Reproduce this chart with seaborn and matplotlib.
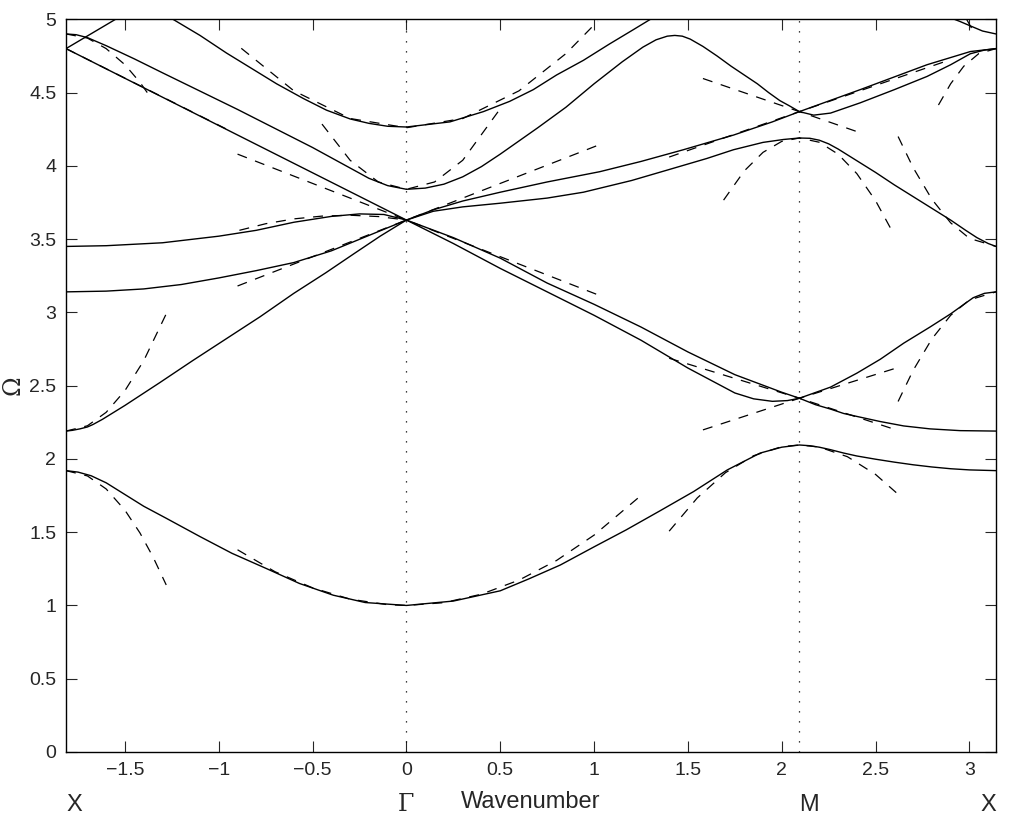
import numpy as np
import pandas as pd
import seaborn as sns
import matplotlib
matplotlib.use("Agg")
import matplotlib.pyplot as plt

# path end points: X - Gamma - M - X
X_LEFT = -1.814
GAMMA = 0.0
M_PT = 2.094
X_RIGHT = 3.1416

# ---------------- solid bands ----------------
# lowest band, whole path
band1_x = [-1.814, -1.75, -1.68, -1.6, -1.5, -1.4, -1.28, -1.1, -0.93, -0.75, -0.57, -0.39,
           -0.22, 0.0, 0.25, 0.5, 0.65, 0.82, 1.0, 1.17, 1.35, 1.53, 1.71, 1.885, 2.0,
           2.094, 2.15, 2.2, 2.26, 2.33, 2.4, 2.5, 2.6, 2.7, 2.8, 2.9, 3.0, 3.1416]
band1_y = [1.92, 1.91, 1.885, 1.837, 1.757, 1.677, 1.595, 1.47, 1.356, 1.254, 1.15, 1.07,
           1.02, 1.0, 1.03, 1.10, 1.18, 1.276, 1.40, 1.515, 1.645, 1.777, 1.925, 2.04, 2.08,
           2.095, 2.09, 2.08, 2.063, 2.04, 2.02, 1.998, 1.978, 1.96, 1.945, 1.933, 1.925, 1.92]

# X -> Gamma
xg_a_x = [-1.814, -1.78, -1.74, -1.7, -1.67, -1.62, -1.5, -1.315, -1.14, -0.96, -0.78,
          -0.6, -0.43, -0.28, -0.14, 0.0]
xg_a_y = [2.19, 2.195, 2.205, 2.218, 2.235, 2.27, 2.365, 2.52, 2.67, 2.82, 2.97,
          3.13, 3.27, 3.40, 3.52, 3.63]
xg_b_x = [-1.814, -1.6, -1.4, -1.2, -1.0, -0.8, -0.6, -0.4, -0.2, 0.0]
xg_b_y = [3.14, 3.145, 3.16, 3.19, 3.235, 3.285, 3.34, 3.42, 3.525, 3.63]
xg_c_x = [-1.814, -1.6, -1.3, -1.0, -0.8, -0.6, -0.4, -0.25, -0.12, 0.0]
xg_c_y = [3.45, 3.455, 3.475, 3.52, 3.56, 3.615, 3.655, 3.672, 3.668, 3.63]
xg_d_x = [-1.814, -1.2, -0.6, 0.0]
xg_d_y = [4.80, 4.404, 4.017, 3.63]
xg_e_x = [-1.814, -1.76, -1.7, -1.6, -1.45, -1.3, -1.1, -0.9, -0.7, -0.5, -0.35, -0.2,
          -0.1, 0.0]
xg_e_y = [4.90, 4.895, 4.875, 4.82, 4.73, 4.635, 4.51, 4.385, 4.255, 4.125, 4.02, 3.915,
          3.865, 3.84]
xg_f_x = [-1.244, -1.1, -0.959, -0.8, -0.692, -0.55, -0.426, -0.3, -0.2, -0.1, 0.0]
xg_f_y = [5.0, 4.89, 4.77, 4.645, 4.56, 4.46, 4.38, 4.32, 4.29, 4.27, 4.265]
xg_g_x = [-1.814, -1.5]
xg_g_y = [4.80, 5.038]

# Gamma -> M
gm_a_x = [0.0, 0.143, 0.3, 0.5, 0.75, 1.03, 1.25, 1.476, 1.743, 1.95, 2.094]
gm_a_y = [3.63, 3.70, 3.76, 3.82, 3.89, 3.96, 4.03, 4.11, 4.21, 4.30, 4.37]
gm_b_x = [0.0, 0.143, 0.3, 0.5, 0.75, 0.943, 1.2, 1.387, 1.6, 1.743, 1.9, 2.01, 2.094]
gm_b_y = [3.63, 3.69, 3.72, 3.745, 3.78, 3.82, 3.90, 3.97, 4.05, 4.11, 4.16, 4.18, 4.19]
gm_c_x = [0.0, 0.25, 0.5, 0.75, 1.0, 1.25, 1.5, 1.75, 2.0, 2.094]
gm_c_y = [3.63, 3.51, 3.37, 3.20, 3.055, 2.90, 2.73, 2.575, 2.455, 2.414]
gm_d_x = [0.0, 0.25, 0.5, 0.75, 1.0, 1.25, 1.5, 1.75, 1.85, 1.95, 2.03, 2.094]
gm_d_y = [3.63, 3.47, 3.30, 3.14, 2.98, 2.81, 2.62, 2.45, 2.41, 2.393, 2.398, 2.414]
gm_e_x = [0.0, 0.1, 0.2, 0.3, 0.4, 0.5, 0.6, 0.7, 0.85, 1.0, 1.15, 1.26, 1.33, 1.39,
          1.43, 1.47, 1.512, 1.58, 1.655, 1.73, 1.8, 1.87, 1.93, 1.99, 2.04, 2.094]
gm_e_y = [3.84, 3.848, 3.875, 3.925, 3.995, 4.08, 4.17, 4.26, 4.40, 4.56, 4.71, 4.81,
          4.86, 4.885, 4.89, 4.885, 4.865, 4.815, 4.75, 4.68, 4.62, 4.56, 4.50, 4.445,
          4.41, 4.37]
gm_f_x = [0.0, 0.232, 0.41, 0.55, 0.676, 0.8, 0.943, 1.08, 1.21, 1.30]
gm_f_y = [4.265, 4.30, 4.37, 4.44, 4.52, 4.62, 4.72, 4.83, 4.93, 5.0]

# M -> X
mx_a_x = [2.094, 2.418, 2.774, 3.005, 3.1416]
mx_a_y = [4.37, 4.52, 4.69, 4.78, 4.80]
mx_b_x = [2.094, 2.17, 2.26, 2.418, 2.6, 2.774, 2.9, 3.005, 3.08, 3.1416]
mx_b_y = [4.37, 4.346, 4.36, 4.43, 4.52, 4.61, 4.69, 4.765, 4.79, 4.80]
mx_c_x = [2.094, 2.15, 2.2, 2.25, 2.3, 2.35, 2.4, 2.5, 2.6, 2.7, 2.8, 2.9, 2.98, 3.04,
          3.1, 3.1416]
mx_c_y = [4.19, 4.188, 4.175, 4.15, 4.115, 4.075, 4.035, 3.955, 3.87, 3.79, 3.71, 3.63,
          3.56, 3.51, 3.47, 3.45]
mx_d_x = [2.094, 2.26, 2.4, 2.525, 2.65, 2.79, 2.9, 3.02, 3.08, 3.1416]
mx_d_y = [2.414, 2.49, 2.585, 2.68, 2.79, 2.90, 2.99, 3.10, 3.13, 3.14]
mx_e_x = [2.094, 2.18, 2.26, 2.33, 2.4, 2.525, 2.65, 2.79, 2.95, 3.1416]
mx_e_y = [2.414, 2.37, 2.34, 2.31, 2.29, 2.255, 2.225, 2.205, 2.193, 2.19]
mx_f_x = [2.90, 2.95, 3.005, 3.07, 3.1416]
mx_f_y = [5.01, 4.985, 4.955, 4.92, 4.90]

# ---------------- dashed approximations ----------------
dx_band1_x = [-1.814, -1.7, -1.6, -1.5, -1.42, -1.35, -1.28]
dx_band1_y = [1.92, 1.884, 1.795, 1.65, 1.495, 1.33, 1.14]
dx_219_x = [-1.814, -1.7, -1.6, -1.5, -1.4, -1.28]
dx_219_y = [2.19, 2.226, 2.318, 2.466, 2.67, 2.99]
dx_490_x = [-1.814, -1.7, -1.6, -1.5, -1.42, -1.37]
dx_490_y = [4.90, 4.872, 4.80, 4.69, 4.57, 4.48]
dx_480_x = [-1.814, -0.95]
dx_480_y = [4.80, 4.245]
dg_band1_x = [-0.9, -0.7, -0.5, -0.3, -0.1, 0.0, 0.2, 0.4, 0.6, 0.8, 1.0, 1.245]
dg_band1_y = [1.38, 1.23, 1.12, 1.043, 1.005, 1.0, 1.019, 1.077, 1.173, 1.307, 1.48, 1.745]
dg_up_x = [-0.9, 1.04]
dg_up_y = [3.18, 4.15]
dg_down_x = [-0.9, 1.04]
dg_down_y = [4.08, 3.11]
dg_384_x = [-0.45, -0.3, -0.15, 0.0, 0.15, 0.3, 0.5]
dg_384_y = [4.285, 4.038, 3.89, 3.84, 3.89, 4.038, 4.39]
dg_426_x = [-0.88, -0.6, -0.3, 0.0, 0.3, 0.6, 0.85, 1.02]
dg_426_y = [4.802, 4.512, 4.323, 4.26, 4.323, 4.512, 4.766, 4.988]
dg_345_x = [-0.89, -0.75, -0.6, -0.45, -0.3, -0.15, 0.0]
dg_345_y = [3.56, 3.605, 3.638, 3.657, 3.663, 3.654, 3.63]
dm_band1_x = [1.40, 1.55, 1.7, 1.85, 2.0, 2.094, 2.2, 2.35, 2.5, 2.61]
dm_band1_y = [1.507, 1.734, 1.906, 2.022, 2.084, 2.095, 2.081, 2.015, 1.894, 1.77]
dm_lo_x = [1.58, 2.094, 2.61]
dm_lo_y = [2.198, 2.414, 2.198]
dm_hi_x = [1.40, 2.094, 2.61]
dm_hi_y = [2.687, 2.414, 2.62]
dm_437a_x = [1.58, 2.094, 2.9]
dm_437a_y = [4.596, 4.37, 4.725]
dm_437b_x = [1.40, 2.094, 2.42]
dm_437b_y = [4.06, 4.37, 4.225]
dm_419_x = [1.69, 1.8, 1.9, 2.0, 2.094, 2.2, 2.3, 2.4, 2.5, 2.59]
dm_419_y = [3.766, 3.965, 4.092, 4.167, 4.19, 4.161, 4.08, 3.947, 3.762, 3.55]
dxr_314_x = [2.62, 2.7, 2.8, 2.9, 3.0, 3.1416]
dxr_314_y = [2.392, 2.604, 2.819, 2.98, 3.085, 3.14]
dxr_345_x = [2.62, 2.7, 2.8, 2.9, 3.0, 3.1416]
dxr_345_y = [4.20, 3.988, 3.772, 3.611, 3.505, 3.45]
dxr_480_x = [2.835, 2.9, 2.97, 3.05, 3.1416]
dxr_480_y = [4.415, 4.56, 4.68, 4.766, 4.80]
dxr_490_x = [2.985, 3.02]
dxr_490_y = [5.0, 4.92]

x_ticks = [-1.5, -1, -0.5, 0, 0.5, 1, 1.5, 2, 2.5, 3]
y_ticks = [0, 0.5, 1, 1.5, 2, 2.5, 3, 3.5, 4, 4.5, 5]

solid = [(band1_x, band1_y), (xg_a_x, xg_a_y), (xg_b_x, xg_b_y), (xg_c_x, xg_c_y),
         (xg_d_x, xg_d_y), (xg_e_x, xg_e_y), (xg_f_x, xg_f_y), (xg_g_x, xg_g_y),
         (gm_a_x, gm_a_y), (gm_b_x, gm_b_y), (gm_c_x, gm_c_y), (gm_d_x, gm_d_y),
         (gm_e_x, gm_e_y), (gm_f_x, gm_f_y), (mx_a_x, mx_a_y), (mx_b_x, mx_b_y),
         (mx_c_x, mx_c_y), (mx_d_x, mx_d_y), (mx_e_x, mx_e_y), (mx_f_x, mx_f_y)]
dashed = [(dx_band1_x, dx_band1_y), (dx_219_x, dx_219_y), (dx_490_x, dx_490_y),
          (dx_480_x, dx_480_y), (dg_band1_x, dg_band1_y), (dg_up_x, dg_up_y),
          (dg_down_x, dg_down_y), (dg_384_x, dg_384_y), (dg_426_x, dg_426_y),
          (dg_345_x, dg_345_y), (dm_band1_x, dm_band1_y), (dm_lo_x, dm_lo_y),
          (dm_hi_x, dm_hi_y), (dm_437a_x, dm_437a_y), (dm_437b_x, dm_437b_y),
          (dm_419_x, dm_419_y), (dxr_314_x, dxr_314_y), (dxr_345_x, dxr_345_y),
          (dxr_480_x, dxr_480_y), (dxr_490_x, dxr_490_y)]


def to_frame(curves):
    rows = []
    for i, (xs, ys) in enumerate(curves):
        rows += [(i, x, y) for x, y in zip(xs, ys)]
    return pd.DataFrame(rows, columns=["curve", "k", "omega"])


sns.set_style("ticks")
plt.rcParams["font.family"] = ["Liberation Sans", "DejaVu Sans"]

fig = plt.figure(figsize=(10.25, 8.25), dpi=100)
ax = fig.add_axes([0.0644, 0.0885, 0.9073, 0.8881])

sns.lineplot(data=to_frame(solid), x="k", y="omega", units="curve", estimator=None,
             sort=False, color="black", lw=1.0, ax=ax)
sns.lineplot(data=to_frame(dashed), x="k", y="omega", units="curve", estimator=None,
             sort=False, color="black", lw=0.9, linestyle=(0, (8, 7)), ax=ax)

# symmetry points
for xv in [GAMMA, M_PT]:
    ax.axvline(xv, color="black", lw=0.9, linestyle=(0, (1, 7)))

ax.set_xlim(X_LEFT, X_RIGHT)
ax.set_ylim(0, 5)
ax.set_xticks(x_ticks)
ax.set_xticklabels(["\u22121.5", "\u22121", "\u22120.5", "0", "0.5", "1", "1.5", "2", "2.5", "3"])
ax.set_yticks(y_ticks)
ax.set_yticklabels(["0", "0.5", "1", "1.5", "2", "2.5", "3", "3.5", "4", "4.5", "5"])
ax.tick_params(direction="in", length=8, width=0.8, top=True, right=True,
               labelsize=14, pad=7)
for s in ax.spines.values():
    s.set_visible(True)
    s.set_linewidth(1.0)
    s.set_color("black")

ax.set_xlabel("Wavenumber", fontsize=17, labelpad=9)
ax.set_ylabel("\u03a9", fontsize=17, family="DejaVu Serif", labelpad=3)

tr = ax.get_xaxis_transform()
ax.text(X_LEFT, -0.072, "X", transform=tr, ha="left", va="center", fontsize=17)
ax.text(GAMMA, -0.072, "\u0393", transform=tr, ha="center", va="center", fontsize=17,
        family="DejaVu Serif")
ax.text(M_PT, -0.072, "M", transform=tr, ha="left", va="center", fontsize=17)
ax.text(X_RIGHT, -0.072, "X", transform=tr, ha="right", va="center", fontsize=17)

fig.savefig("out.png", dpi=100, facecolor="white")
